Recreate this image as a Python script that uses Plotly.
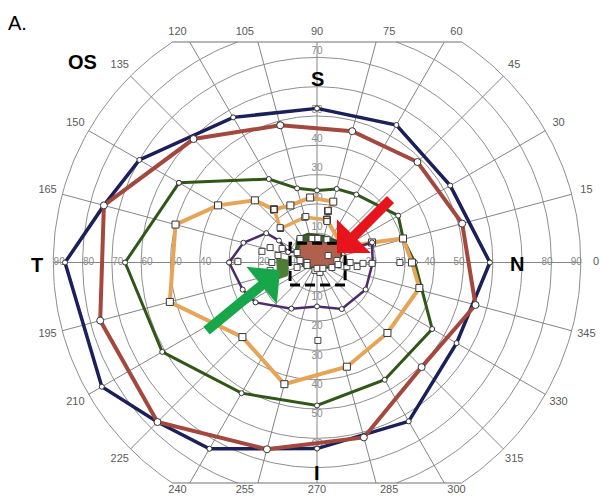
import numpy as np
import plotly.graph_objects as go

# ---------------- data (angle in degrees, eccentricity in degrees) ----------------
ring_ecc = [10, 20, 30, 40, 50, 60, 70, 80, 90]
meridian_ang = list(range(0, 360, 15))
angle_tick_labels = [0, 15, 30, 45, 60, 75, 90, 105, 120, 135, 150, 165,
                     195, 210, 225, 240, 255, 270, 285, 300, 315, 330, 345]
ecc_labels_left = [10, 20, 30, 40, 50, 60, 70, 80, 90]
ecc_labels_right = [10, 20, 30, 40, 50, 80, 90]
ecc_labels_up = [10, 20, 30, 40, 50, 70]
ecc_labels_down = [10, 20, 30, 40, 50, 60]

navy_ang = [90, 60, 30, 0, 330, 300, 270, 240, 225, 210, 180, 165, 150, 120]
navy_ecc = [52.6, 54.2, 52.5, 59, 55, 62.6, 63.5, 73.4, 77, 84.8, 86, 75.3, 70, 57.2]

brown_ang = [105, 75, 45, 15, 345, 315, 285, 255, 225, 195, 165, 135]
brown_ecc = [48.5, 46.4, 48.5, 51.3, 56, 50.5, 61.8, 66, 77, 76.6, 75.3, 59.6]

green_ang = [150, 120, 105, 90, 75, 60, 30, 15, 0, 330, 300, 270, 240, 210, 180]
green_ecc = [54.4, 32.9, 26.2, 24.6, 26, 26.8, 32, 30.5, 33.4, 45.4, 46.2, 48.8, 51.5, 61, 65.5]

orange_ang = [129, 115, 96, 75, 78, 77, 30, 20, 15.6, 0, 346, 315, 286, 255, 225, 195, 165, 150, 135]
orange_ecc = [23.3, 21.5, 22.3, 21.5, 18, 15, 10.2, 20, 30.5, 32.4, 36, 34, 37, 43, 36, 52, 50, 39, 30]

orange_inner_ang = [129, 137, 105, 77]
orange_inner_ecc = [23.3, 17, 16, 15]

purple_ang = [180, 200, 213, 241, 270, 298, 331, 0, 20, 23, 160, 150, 150, 165]
purple_ecc = [30, 27, 25, 18, 15, 18, 19, 19, 20, 10.4, 10.5, 15, 20, 26]

# central isopters (horizontal, vertical eccentricity in degrees)
dkgreen_h = [-6.8, -3.1, 2.0, 6.8, 8.5, 6.1, -4.1, -7.5]
dkgreen_v = [8.5, 9.9, 9.2, 7.5, 2.4, -1.7, -2.0, 2.4]
redpatch_h = [-5.1, 6.8, 7.8, 6.1, -4.1, -6.5]
redpatch_v = [6.8, 6.5, 1.4, -1.0, -1.0, 2.4]
greenpatch_h = [-13.7, -9.9, -10.2, -13.3]
greenpatch_v = [1.4, 0.7, -4.4, -5.5]

# tested points without response (white squares)
test_h = [-3.8, 3.4, 3.8, -12.6, -18.8, -16.0, -13.3, -15.4, -16.0, -6.8, -5.8, -3.4,
          -0.7, 1.0, 3.8, 6.8, 10.2, 13.7, 18.8, -27.0, -5.8, -1.7, 0.3, 3.4, -6.8,
          -3.4, 0.0, 2.0, 5.1, 7.2, -11.9, 15.7, 11.3, 28.3, 0.3]
test_v = [15.7, 14.0, 17.7, 11.9, 3.8, 5.1, 2.4, 0.0, -2.7, 3.4, 0.7, 0.0,
          -2.7, -3.4, 2.4, 0.7, -1.4, -1.4, -0.3, 0.3, 8.2, 8.2, 8.2, 7.8, -1.7,
          -1.0, -2.0, -2.0, -1.7, -0.7, 4.8, -0.3, 0.0, 0.0, -26.6]

# dashed box (horizontal / vertical degrees)
box_h = [-9.2, 9.6]
box_v = [-7.7, 6.6]

# arrows: tip and tail (horizontal, vertical degrees)
red_arrow = dict(tip=(6.8, 3.2), tail=(25.6, 22.0))
green_arrow = dict(tip=(-12.6, -2.6), tail=(-38.2, -23.7))

# ---------------- geometry ----------------
PX = 2.93                     # pixels per degree
CX, CY = 317, 262.5           # chart centre in pixels
X_RANGE = [-CX / PX, (600 - CX) / PX]
Y_RANGE = [-(500 - CY) / PX, CY / PX]
Y_CLIP = 220.5 / PX           # chart is cut by a rectangle at top/bottom
R_MAX = 90


def to_xy(ang, ecc, close=True):
    a = np.radians(np.asarray(ang, float))
    r = np.asarray(ecc, float)
    x, y = r * np.cos(a), r * np.sin(a)
    if close:
        x, y = np.append(x, x[0]), np.append(y, y[0])
    return x, y


fig = go.Figure()

# grid rings (clipped by the rectangle)
gx, gy = [], []
for r in ring_ecc:
    if r <= Y_CLIP:
        t = np.linspace(0, 2 * np.pi, 361)
        gx += list(r * np.cos(t)) + [None]
        gy += list(r * np.sin(t)) + [None]
    else:
        a0 = np.arcsin(Y_CLIP / r)
        for c in (0, np.pi):
            t = np.linspace(c - a0, c + a0, 120)
            gx += list(r * np.cos(t)) + [None]
            gy += list(r * np.sin(t)) + [None]
fig.add_trace(go.Scatter(x=gx, y=gy, mode="lines", line=dict(color="#8e8e8e", width=1),
                         hoverinfo="skip", showlegend=False))

# meridians
mx, my = [], []
for a in meridian_ang:
    ar = np.radians(a)
    s = abs(np.sin(ar))
    r_end = R_MAX if s < 1e-9 else min(R_MAX, Y_CLIP / s)
    mx += [0, r_end * np.cos(ar), None]
    my += [0, r_end * np.sin(ar), None]
fig.add_trace(go.Scatter(x=mx, y=my, mode="lines", line=dict(color="#858585", width=1),
                         hoverinfo="skip", showlegend=False))

# clipping chords at top and bottom
xc = np.sqrt(R_MAX ** 2 - Y_CLIP ** 2)
fig.add_trace(go.Scatter(x=[-xc, xc, None, -xc, xc], y=[Y_CLIP, Y_CLIP, None, -Y_CLIP, -Y_CLIP],
                         mode="lines", line=dict(color="#707070", width=1.2),
                         hoverinfo="skip", showlegend=False))

# angle labels
lab_r = 95.2
ang_r = np.radians(angle_tick_labels)
lx = lab_r * np.cos(ang_r)
ly = np.clip(lab_r * np.sin(ang_r), -77.8, 78.6)
fig.add_trace(go.Scatter(x=lx, y=ly, mode="text", text=[str(a) for a in angle_tick_labels],
                         textfont=dict(size=11, color="#5a5a5a", family="Liberation Sans, Arial"),
                         hoverinfo="skip", showlegend=False))

# eccentricity labels
ex = ([-(r - 2) for r in ecc_labels_left] + [(r - 1.5) for r in ecc_labels_right]
      + [0] * (len(ecc_labels_up) + len(ecc_labels_down)))
ey = ([0] * (len(ecc_labels_left) + len(ecc_labels_right))
      + [(r + 2) for r in ecc_labels_up] + [-(r + 2) for r in ecc_labels_down])
et = [str(r) for r in ecc_labels_left + ecc_labels_right + ecc_labels_up + ecc_labels_down]
fig.add_trace(go.Scatter(x=ex, y=ey, mode="text", text=et,
                         textfont=dict(size=10, color="#8a8a8a", family="Liberation Sans, Arial"),
                         hoverinfo="skip", showlegend=False))


def isopter(ang, ecc, color, width, msize, symbol="circle", close=True):
    x, y = to_xy(ang, ecc, close)
    fig.add_trace(go.Scatter(x=x, y=y, mode="lines+markers",
                             line=dict(color=color, width=width),
                             marker=dict(symbol=symbol, size=msize, color="white",
                                         line=dict(color="#333333", width=1)),
                             hoverinfo="skip", showlegend=False))


isopter(navy_ang, navy_ecc, "#1b1f5a", 3.5, 5)
isopter(brown_ang, brown_ecc, "#a4483d", 4, 7)
isopter(green_ang, green_ecc, "#2f5718", 3, 5)
isopter(orange_ang, orange_ecc, "#e6a457", 4, 7, "square")
isopter(orange_inner_ang, orange_inner_ecc, "#e6a457", 3.5, 6, "square", close=False)
isopter(purple_ang, purple_ecc, "#4d2a6a", 2.5, 5)


def patch(h, v, fill, line):
    fig.add_trace(go.Scatter(x=list(h) + [h[0]], y=list(v) + [v[0]], mode="lines", fill="toself",
                             fillcolor=fill, line=dict(color=line, width=1.5),
                             hoverinfo="skip", showlegend=False))


patch(dkgreen_h, dkgreen_v, "#3e5e2c", "#2f4a20")
patch(redpatch_h, redpatch_v, "#b2604e", "#b2604e")
patch(greenpatch_h, greenpatch_v, "#4f7c36", "#4f7c36")

fig.add_trace(go.Scatter(x=test_h, y=test_v, mode="markers",
                         marker=dict(symbol="square", size=6, color="white",
                                     line=dict(color="#444444", width=1)),
                         hoverinfo="skip", showlegend=False))

# dashed box
fig.add_shape(type="rect", x0=box_h[0], x1=box_h[1], y0=box_v[0], y1=box_v[1],
              line=dict(color="black", width=3, dash="10px,5px"))

# arrows
for arr, col in [(red_arrow, "#e8141c"), (green_arrow, "#17a64a")]:
    fig.add_annotation(x=arr["tip"][0], y=arr["tip"][1], ax=arr["tail"][0], ay=arr["tail"][1],
                       xref="x", yref="y", axref="x", ayref="y", text="", showarrow=True,
                       arrowhead=1, arrowsize=0.8, arrowwidth=10, arrowcolor=col, standoff=0)

# letters
letters = [("A.", -102.2, 81.9, False), ("OS", -80.2, 68.3, True), ("S", 0, 62.6, True),
           ("N", 68.4, -0.5, True), ("T", -95.7, -0.9, True), ("I", 0, -72.0, True)]
for txt, x, y, bold in letters:
    fig.add_annotation(x=x, y=y, xref="x", yref="y", showarrow=False,
                       text=f"<b>{txt}</b>" if bold else txt,
                       font=dict(size=20, color="black", family="Liberation Sans, Arial"))

fig.update_layout(width=600, height=500, margin=dict(l=0, r=0, t=0, b=0),
                  plot_bgcolor="white", paper_bgcolor="white", showlegend=False)
fig.update_xaxes(range=X_RANGE, visible=False, fixedrange=True)
fig.update_yaxes(range=Y_RANGE, visible=False, fixedrange=True)

fig.write_html("out.html", config={"displayModeBar": False},
               post_script="document.body.style.margin='0';")
